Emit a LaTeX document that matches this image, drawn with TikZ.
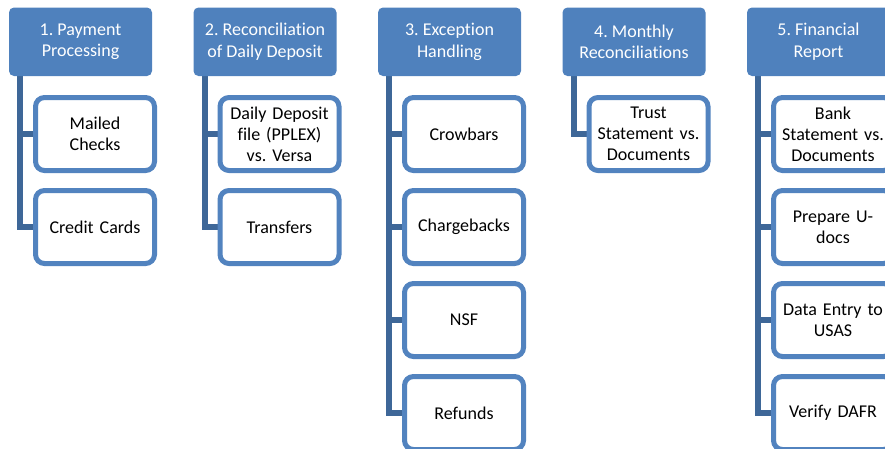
\documentclass[tikz,border=0pt]{standalone}
\usepackage{fontspec}
\setmainfont{Carlito}[Ligatures=NoCommon]
\usetikzlibrary{backgrounds,calc}
\definecolor{headblue}{HTML}{4F81BD}
\definecolor{boxblue}{HTML}{5283BF}
\definecolor{linkblue}{HTML}{3E6798}
\frenchspacing
\tikzset{
  headbox/.style={rectangle, rounded corners=5pt, fill=headblue, text=white,
    minimum width=143pt, minimum height=68.5pt, inner sep=0pt, align=center,
    font=\fontsize{18}{21.5}\selectfont},
  itembox/.style={rectangle, rounded corners=9pt, draw=boxblue, line width=5pt,
    fill=white, text=black, minimum width=119pt, minimum height=73pt,
    inner sep=0pt, text width=112pt, align=center,
    font=\fontsize{18}{21}\selectfont},
  link/.style={draw=linkblue, line width=6pt}
}
\begin{document}
\begin{tikzpicture}[x=1pt,y=-1pt]
\useasboundingbox (0,0) rectangle (885,448);

% column headers
\node[headbox] (h1) at (80.5,41.75)  {1. Payment\\Processing};
\node[headbox] (h2) at (265,41.75)   {2. Reconciliation\\of Daily Deposit};
\node[headbox] (h3) at (449.5,41.75) {3. Exception\\Handling};
\node[headbox] (h4) at (634,41.75)   {4. Monthly\\Reconciliations};
\node[headbox] (h5) at (818.5,41.75) {5. Financial\\Report};

% column 1
\node[itembox] (c11) at (95,134)  {Mailed\\Checks};
\node[itembox] (c12) at (95,227)  {Credit Cards};
% column 2
\node[itembox] (c21) at (279.5,134) {Daily Deposit\\file (PPLEX)\\vs. Versa};
\node[itembox] (c22) at (279.5,227) {Transfers};
% column 3
\node[itembox] (c31) at (464,134) {Crowbars};
\node[itembox] (c32) at (464,227) {Chargebacks};
\node[itembox] (c33) at (464,320) {NSF};
\node[itembox] (c34) at (464,413) {Refunds};
% column 4
\node[itembox] (c41) at (648.5,134) {Trust\\Statement vs.\\Documents};
% column 5
\node[itembox] (c51) at (833,134) {Bank\\Statement vs.\\Documents};
\node[itembox] (c52) at (833,227) {Prepare U-\\docs};
\node[itembox] (c53) at (833,320) {Data Entry to\\USAS};
\node[itembox] (c54) at (833,413) {Verify DAFR};

% connectors from each header down to its items
\begin{pgfonlayer}{background}
  \coordinate (s1) at ($(h1.south west)+(11.5,0)$);
  \coordinate (s2) at ($(h2.south west)+(11.5,0)$);
  \coordinate (s3) at ($(h3.south west)+(11.5,0)$);
  \coordinate (s4) at ($(h4.south west)+(11.5,0)$);
  \coordinate (s5) at ($(h5.south west)+(11.5,0)$);
  \foreach \c in {c11,c12} {\draw[link] (s1) |- (\c.west);}
  \foreach \c in {c21,c22} {\draw[link] (s2) |- (\c.west);}
  \foreach \c in {c31,c32,c33,c34} {\draw[link] (s3) |- (\c.west);}
  \foreach \c in {c41} {\draw[link] (s4) |- (\c.west);}
  \foreach \c in {c51,c52,c53,c54} {\draw[link] (s5) |- (\c.west);}
\end{pgfonlayer}
\end{tikzpicture}
\end{document}
